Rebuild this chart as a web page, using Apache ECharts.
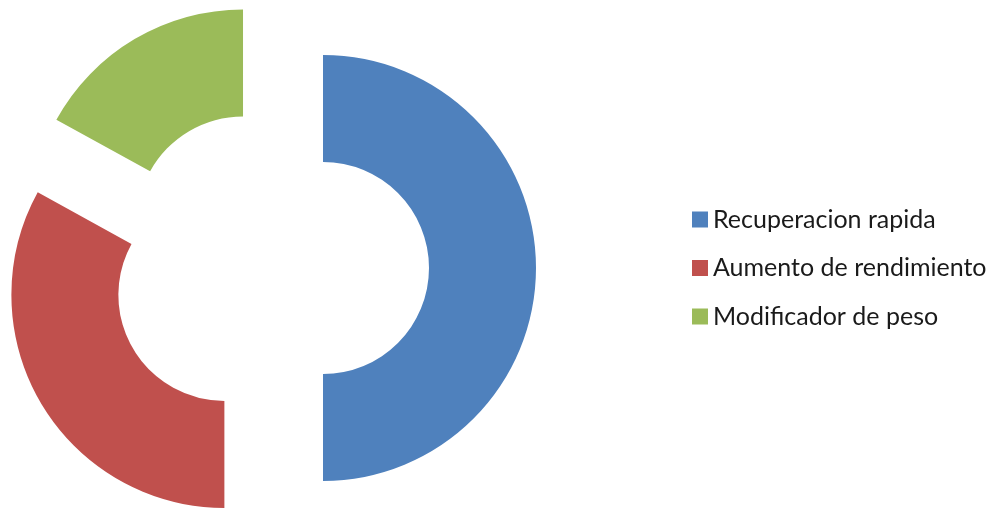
<!DOCTYPE html>
<html>
<head>
<meta charset="utf-8">
<script src="https://cdn.jsdelivr.net/npm/echarts@6/dist/echarts.min.js"></script>
<style>
  html, body { margin: 0; padding: 0; background: #ffffff; }
  #chart { width: 992px; height: 510px; }
</style>
</head>
<body>
<div id="chart"></div>
<script>
// Segment names and their shares (percent)
const categories = ['Recuperacion rapida', 'Aumento de rendimiento', 'Modificador de peso'];
const values = [50, 33, 17];
const colors = ['#4F81BD', '#C0504D', '#9BBB59'];

const chart = echarts.init(document.getElementById('chart'), null, { renderer: 'canvas' });

const data = categories.map((name, i) => ({
  name: name,
  value: values[i],
  selected: true,
  itemStyle: { color: colors[i] }
}));

chart.setOption({
  animation: false,
  backgroundColor: '#ffffff',
  legend: {
    orient: 'vertical',
    left: 692,
    top: 207,
    padding: 0,
    itemWidth: 16,
    itemHeight: 16,
    itemGap: 23.5,
    icon: 'rect',
    selectedMode: false,
    textStyle: {
      fontFamily: 'Lato',
      fontSize: 25,
      lineHeight: 25,
      color: '#1a1a1a'
    },
    data: categories
  },
  series: [{
    type: 'pie',
    center: [270, 268],
    radius: [106, 213],
    startAngle: 90,
    clockwise: true,
    selectedMode: 'multiple',
    selectedOffset: 53,
    avoidLabelOverlap: false,
    label: { show: false },
    labelLine: { show: false },
    emphasis: { disabled: true },
    select: { itemStyle: { borderWidth: 0 } },
    itemStyle: { borderWidth: 0 },
    data: data
  }]
});
</script>
</body>
</html>
